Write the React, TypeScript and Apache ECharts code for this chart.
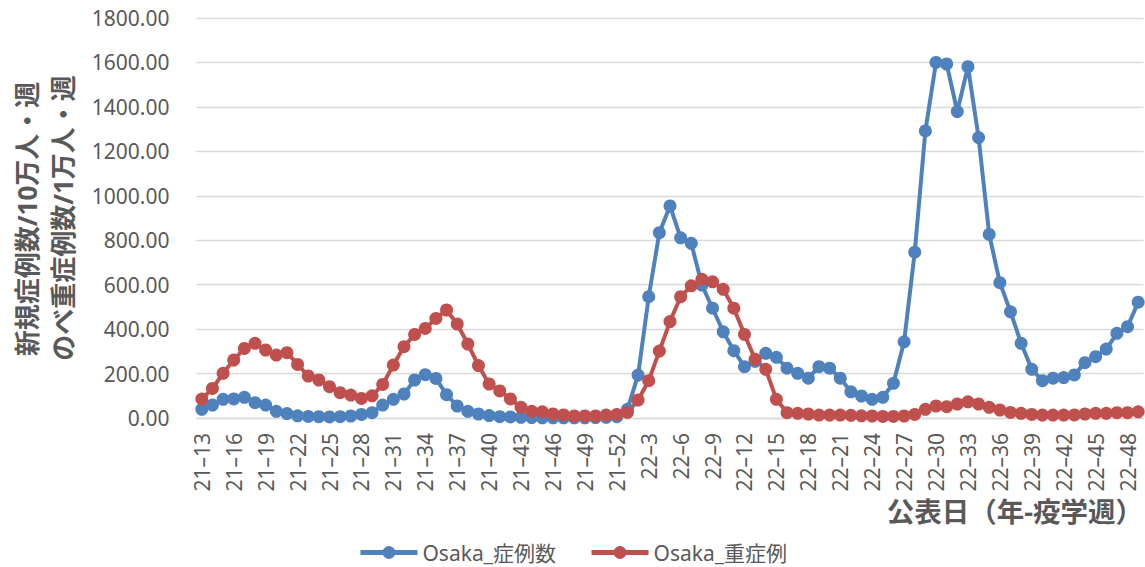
import React, { useEffect, useRef } from "react";
import * as echarts from "echarts";

const categories: string[] = [
  "21–13", "21–14", "21–15", "21–16", "21–17", "21–18", "21–19", "21–20", "21–21", "21–22",
  "21–23", "21–24", "21–25", "21–26", "21–27", "21–28", "21–29", "21–30", "21–31", "21–32",
  "21–33", "21–34", "21–35", "21–36", "21–37", "21–38", "21–39", "21–40", "21–41", "21–42",
  "21–43", "21–44", "21–45", "21–46", "21–47", "21–48", "21–49", "21–50", "21–51", "21–52",
  "22–1", "22–2", "22–3", "22–4", "22–5", "22–6", "22–7", "22–8", "22–9", "22–10",
  "22–11", "22–12", "22–13", "22–14", "22–15", "22–16", "22–17", "22–18", "22–19", "22–20",
  "22–21", "22–22", "22–23", "22–24", "22–25", "22–26", "22–27", "22–28", "22–29", "22–30",
  "22–31", "22–32", "22–33", "22–34", "22–35", "22–36", "22–37", "22–38", "22–39", "22–40",
  "22–41", "22–42", "22–43", "22–44", "22–45", "22–46", "22–47", "22–48", "22–49",
];

const osakaCases: number[] = [
  39, 58, 84, 86, 93, 69, 58, 30, 20, 10,
  7, 6, 5, 6, 9, 16, 24, 58, 84, 108,
  171, 195, 178, 105, 54, 30, 18, 11, 6, 5,
  3, 2, 1, 1, 1, 1, 1, 2, 3, 6,
  39, 193, 546, 834, 954, 811, 786, 598, 494, 388,
  303, 231, 255, 291, 273, 224, 201, 179, 231, 224,
  179, 118, 99, 84, 93, 156, 343, 746, 1292, 1600,
  1593, 1379, 1581, 1262, 826, 609, 478, 336, 219, 168,
  179, 182, 194, 249, 276, 310, 381, 411, 521,
];

const osakaSevere: number[] = [
  85, 133, 201, 261, 313, 336, 306, 283, 294, 241,
  189, 171, 141, 114, 103, 88, 100, 151, 238, 321,
  376, 403, 448, 486, 423, 333, 236, 153, 122, 86,
  48, 30, 28, 18, 14, 9, 9, 9, 13, 16,
  25, 81, 168, 301, 434, 546, 595, 624, 613, 579,
  494, 376, 264, 219, 84, 24, 21, 18, 13, 13,
  13, 12, 10, 9, 7, 7, 9, 16, 39, 54,
  51, 63, 73, 63, 48, 36, 25, 21, 16, 13,
  13, 13, 14, 18, 21, 21, 24, 24, 28,
];

const seriesNames: string[] = ["Osaka_症例数", "Osaka_重症例"];
const yTitleLines: string[] = ["新規症例数/10万人・週", "のべ重症例数/1万人・週"];
const xTitle = "公表日（年-疫学週）";

const FONT = "'Noto Sans', 'Noto Sans CJK JP', sans-serif";
const GRAY = "#595959";

export default function App() {
  const ref = useRef<HTMLDivElement>(null);

  useEffect(() => {
    if (!ref.current) return;
    const chart = echarts.init(ref.current, null, { renderer: "svg" });
    chart.setOption({
      animation: false,
      textStyle: { fontFamily: FONT },
      grid: { left: 196.5, top: 18, width: 947, height: 400, containLabel: false },
      legend: {
        data: seriesNames,
        left: "center",
        top: 537,
        itemWidth: 57,
        itemHeight: 16,
        itemGap: 33,
        lineStyle: { width: 5 },
        textStyle: { fontSize: 21, color: GRAY, fontFamily: FONT },
      },
      xAxis: {
        type: "category",
        data: categories,
        boundaryGap: true,
        axisLine: { lineStyle: { color: "#d9d9d9", width: 1.3 } },
        axisTick: { show: false },
        axisLabel: {
          interval: 2,
          rotate: 90,
          margin: 15,
          fontSize: 21,
          color: GRAY,
          fontFamily: FONT,
        },
        splitLine: { show: false },
      },
      yAxis: {
        type: "value",
        min: 0,
        max: 1800,
        interval: 200,
        axisLine: { show: false },
        axisTick: { show: false },
        axisLabel: {
          margin: 27,
          fontSize: 21,
          color: GRAY,
          fontFamily: FONT,
          formatter: (v: number) => v.toFixed(2),
        },
        splitLine: { lineStyle: { color: "#d9d9d9", width: 1.3 } },
      },
      graphic: [
        {
          type: "text",
          x: 27,
          y: 219,
          rotation: Math.PI / 2,
          style: {
            text: yTitleLines[0],
            fontSize: 26,
            fontWeight: "bold",
            fontFamily: FONT,
            fill: GRAY,
            align: "center",
            verticalAlign: "middle",
            textAlign: "center",
            textVerticalAlign: "middle",
          },
        },
        {
          type: "text",
          x: 63,
          y: 218,
          rotation: Math.PI / 2,
          style: {
            text: yTitleLines[1],
            fontSize: 26,
            fontWeight: "bold",
            fontFamily: FONT,
            fill: GRAY,
            align: "center",
            verticalAlign: "middle",
            textAlign: "center",
            textVerticalAlign: "middle",
          },
        },
        {
          type: "text",
          x: 1143,
          y: 511,
          style: {
            text: xTitle,
            fontSize: 27.5,
            fontWeight: "bold",
            fontFamily: FONT,
            fill: GRAY,
            align: "right",
            verticalAlign: "middle",
            textAlign: "right",
            textVerticalAlign: "middle",
          },
        },
      ],
      series: [
        {
          name: seriesNames[0],
          type: "line",
          data: osakaCases,
          symbol: "circle",
          symbolSize: 13,
          showAllSymbol: true,
          itemStyle: { color: "#4f81bd" },
          lineStyle: { color: "#4f81bd", width: 4 },
        },
        {
          name: seriesNames[1],
          type: "line",
          data: osakaSevere,
          symbol: "circle",
          symbolSize: 13,
          showAllSymbol: true,
          itemStyle: { color: "#c0504d" },
          lineStyle: { color: "#c0504d", width: 4 },
        },
      ],
    });
    return () => chart.dispose();
  }, []);

  return (
    <div
      ref={ref}
      style={{ position: "absolute", left: 0, top: 0, width: 1145, height: 567 }}
    />
  );
}
